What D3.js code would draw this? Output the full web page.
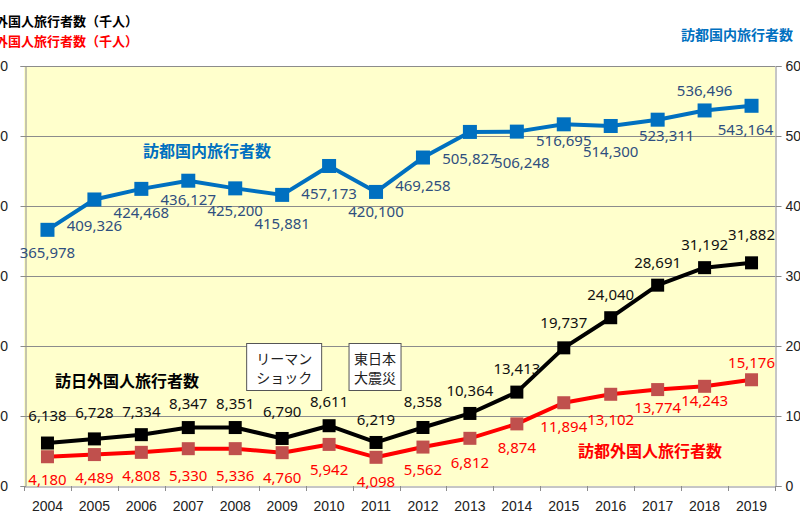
<!DOCTYPE html>
<html><head><meta charset="utf-8">
<script src="https://cdn.jsdelivr.net/npm/d3@7"></script>
<style>
html,body{margin:0;padding:0;background:#fff;overflow:hidden;}
svg{display:block;font-family:"Noto Sans","Noto Sans CJK JP",sans-serif;}
</style></head>
<body><svg id="c" width="800" height="524"></svg>
<script>
const years = ["2004","2005","2006","2007","2008","2009","2010","2011","2012","2013","2014","2015","2016","2017","2018","2019"];
const domesticTokyo = [365978,409326,424468,436127,425200,415881,457173,420100,469258,505827,506248,516695,514300,523311,536496,543164];
const inboundJapan = [6138,6728,7334,8347,8351,6790,8611,6219,8358,10364,13413,19737,24040,28691,31192,31882];
const inboundTokyo = [4180,4489,4808,5330,5336,4760,5942,4098,5562,6812,8874,11894,13102,13774,14243,15176];
const leftTicks = [0,10000,20000,30000,40000,50000,60000];
const rightTicks = [0,100000,200000,300000,400000,500000,600000];
const titleLeft1 = "訪日外国人旅行者数（千人）";
const titleLeft2 = "訪都外国人旅行者数（千人）";
const titleRight = "訪都国内旅行者数";
const seriesNames = ["訪都国内旅行者数","訪日外国人旅行者数","訪都外国人旅行者数"];
const events = [{year:"2009", lines:["リーマン","ショック"]},{year:"2011", lines:["東日本","大震災"]}];

// label layout offsets (px) – style, not data
const domDy = [23,26,24,19,22,29,28,20,28,27,31,16,26,16,-20,24];
const domDx = [0,0,0,0,0,0,0,0,0,0,5,0,0,9,0,-6];
const japDy = [-27,-26,-23,-24,-24,-27,-24,-23,-26,-23,-23,-25,-23,-22,-23,-28];
const tokDy = [23,23,23,27,27,25,25,24,23,24,24,24,25,18,14,-17];

const svg = d3.select("#c");
const m = {l:24, r:775, t:66, b:486};
const x = d3.scaleBand().domain(years).range([m.l, m.r]);
const yL = d3.scaleLinear().domain([0,60000]).range([m.b, m.t]);
const yR = d3.scaleLinear().domain([0,600000]).range([m.b, m.t]);
const cx = d => x(d) + x.bandwidth()/2;
const fmt = d3.format(",");

svg.append("rect").attr("x", m.l).attr("y", m.t).attr("width", m.r-m.l).attr("height", m.b-m.t).attr("fill","#FFFFCC");

// gridlines
svg.append("g").selectAll("line").data(leftTicks.slice(1)).join("line")
  .attr("x1", m.l).attr("x2", m.r).attr("y1", d=>yL(d)+0.5).attr("y2", d=>yL(d)+0.5)
  .attr("stroke","#8c8c8c").attr("stroke-width",1);

// left axis
const gL = svg.append("g").attr("transform",`translate(${m.l+1.5},0)`)
  .call(d3.axisLeft(yL).tickValues(leftTicks).tickFormat(fmt).tickSize(5).tickPadding(12.5));
gL.selectAll("text").attr("font-size","14px").attr("fill","#222");
gL.selectAll("line,path").attr("stroke","#8c8c8c");
// right axis
const gR = svg.append("g").attr("transform",`translate(${m.r+0.5},0)`)
  .call(d3.axisRight(yR).tickValues(rightTicks).tickFormat(fmt).tickSize(6).tickPadding(4));
gR.selectAll("text").attr("font-size","14px").attr("fill","#222");
gR.selectAll("line,path").attr("stroke","#8c8c8c");
// bottom axis
const gB = svg.append("g").attr("transform",`translate(0,${m.b+0.5})`)
  .call(d3.axisBottom(x).tickSize(0).tickPadding(15));
gB.select("path").attr("stroke","#8c8c8c");
gB.selectAll("text").attr("font-size","14px").attr("fill","#222");
svg.append("g").selectAll("line").data(d3.range(years.length+1)).join("line")
  .attr("x1", i=>Math.round(m.l + i*x.step())+0.5).attr("x2", i=>Math.round(m.l + i*x.step())+0.5)
  .attr("y1", m.b).attr("y2", m.b+5).attr("stroke","#8c8c8c");

function series(vals, scale, lineColor, markColor, size, labColor, dy, dx){
  const line = d3.line().x((d,i)=>cx(years[i])).y(d=>scale(d));
  svg.append("path").datum(vals).attr("d", line).attr("fill","none")
    .attr("stroke", lineColor).attr("stroke-width",4).attr("stroke-linejoin","round");
  svg.append("g").selectAll("rect").data(vals).join("rect")
    .attr("x",(d,i)=>cx(years[i])-size/2).attr("y",d=>scale(d)-size/2)
    .attr("width",size).attr("height",size).attr("fill",markColor);
  svg.append("g").selectAll("text").data(vals).join("text")
    .attr("x",(d,i)=>cx(years[i]) + (dx?dx[i]:0)).attr("y",(d,i)=>scale(d)+dy[i])
    .attr("dy","0.35em").attr("text-anchor","middle")
    .attr("font-size","15px").attr("fill",labColor).text(d=>fmt(d));
}
series(domesticTokyo, yR, "#0070C0", "#0070C0", 14, "#2F4F7F", domDy, domDx);
series(inboundTokyo, yL, "#FF0000", "#C0504D", 13, "#FF0000", tokDy);
series(inboundJapan, yL, "#000000", "#000000", 13, "#111", japDy);

// series names
const nm = svg.append("g").attr("font-weight","bold").attr("font-family","'Noto Sans CJK JP',sans-serif").attr("font-size","16px").attr("text-anchor","middle");
nm.append("text").attr("x",207).attr("y",151).attr("dy","0.35em").attr("fill","#0070C0").text(seriesNames[0]);
nm.append("text").attr("x",127).attr("y",381).attr("dy","0.35em").attr("fill","#000").text(seriesNames[1]);
nm.append("text").attr("x",650).attr("y",451).attr("dy","0.35em").attr("fill","#FF0000").text(seriesNames[2]);

// event boxes
const ev = svg.append("g").attr("font-family","'Noto Sans CJK JP',sans-serif");
const boxW = [75, 52];
events.forEach((e,k)=>{
  const c = cx(e.year) + (k===0 ? 2 : -1);
  ev.append("rect").attr("x", c-boxW[k]/2).attr("y",343.5).attr("width",boxW[k]).attr("height",47)
    .attr("fill","#fff").attr("stroke","#555").attr("stroke-width",1);
  e.lines.forEach((t,j)=>ev.append("text").attr("x",c).attr("y",359+j*19).attr("dy","0.35em")
    .attr("text-anchor","middle").attr("font-size","14px").attr("fill","#222").text(t));
});

// titles
const tt = svg.append("g").attr("font-weight","bold").attr("font-family","'Noto Sans CJK JP',sans-serif");
tt.append("text").attr("x",138).attr("y",21).attr("dy","0.35em").attr("text-anchor","end").attr("font-size","13px").attr("fill","#000").text(titleLeft1);
tt.append("text").attr("x",138).attr("y",41).attr("dy","0.35em").attr("text-anchor","end").attr("font-size","13px").attr("fill","#FF0000").text(titleLeft2);
tt.append("text").attr("x",737).attr("y",35).attr("dy","0.35em").attr("text-anchor","middle").attr("font-size","14px").attr("fill","#0070C0").text(titleRight);
</script></body></html>
